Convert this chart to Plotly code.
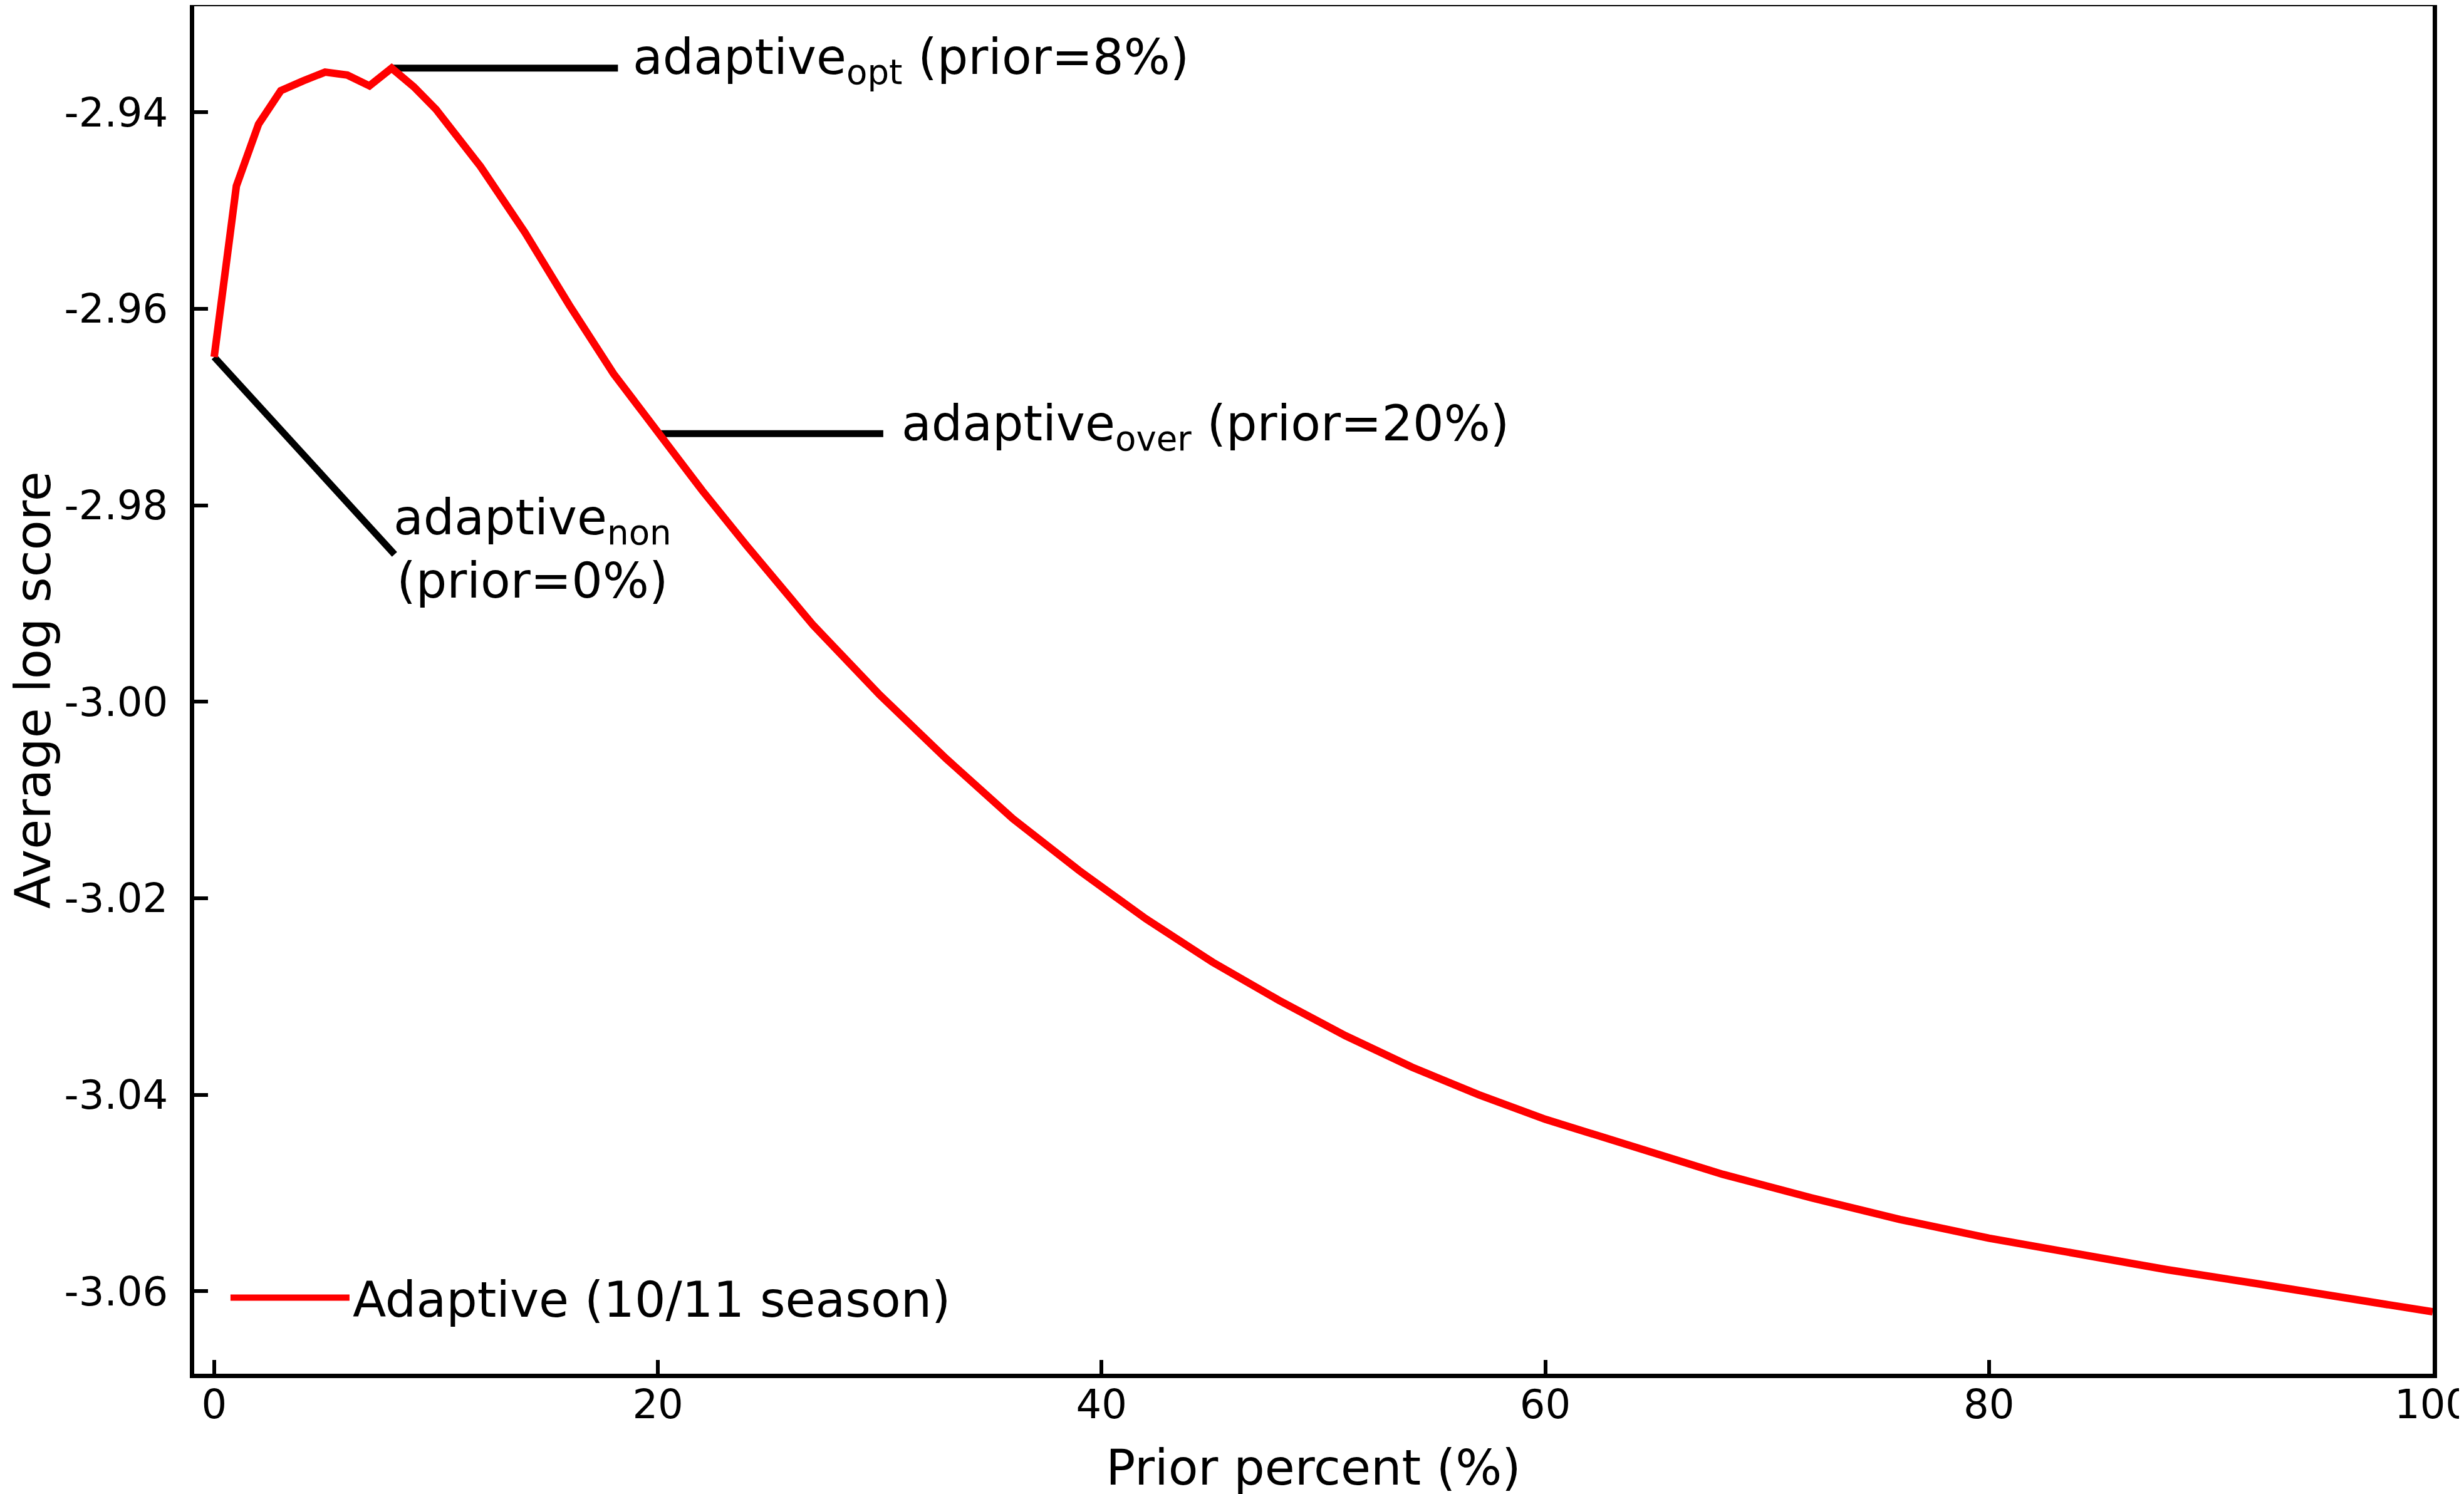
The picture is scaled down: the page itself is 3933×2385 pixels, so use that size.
import plotly.graph_objects as go

# Data
prior_percent = [0, 1, 2, 3, 4, 5, 6, 7, 8, 9, 10, 11, 12, 14, 16, 18, 20, 22, 24,
                 27, 30, 33, 36, 39, 42, 45, 48, 51, 54, 57, 60,
                 64, 68, 72, 76, 80, 84, 88, 92, 96, 100]
avg_log_score = [-2.9649, -2.9475, -2.9412, -2.9378, -2.9368, -2.9359, -2.9362, -2.9373,
                 -2.9355, -2.9374, -2.9397, -2.9425, -2.9455, -2.9522, -2.9596, -2.9666,
                 -2.9727, -2.9785, -2.9841,
                 -2.9922, -2.9993, -3.0058, -3.0119, -3.0172, -3.0221, -3.0265, -3.0304,
                 -3.0340, -3.0372, -3.0400, -3.0425,
                 -3.0454, -3.0481, -3.0505, -3.0527, -3.0546, -3.0562, -3.0578, -3.0592,
                 -3.0606, -3.0621]

series_name = "Adaptive (10/11 season)"
x_tick_vals = [0, 20, 40, 60, 80, 100]
x_tick_text = ["0", "20", "40", "60", "80", "100"]
y_tick_vals = [-3.06, -3.04, -3.02, -3.00, -2.98, -2.96, -2.94]
y_tick_text = ["-3.06", "-3.04", "-3.02", "-3.00", "-2.98", "-2.96", "-2.94"]

# annotated priors
opt_prior = 8
over_prior = 20
non_prior = 0

FONT = "DejaVu Sans"

fig = go.Figure()
fig.add_trace(go.Scatter(
    x=prior_percent, y=avg_log_score, mode="lines", name=series_name,
    line=dict(color="#ff0000", width=12),
))


def score_at(p):
    return avg_log_score[prior_percent.index(p)]


leader = dict(color="black", width=11)
# leader lines (annotation connectors)
fig.add_shape(type="line", xref="x", yref="y", x0=opt_prior, y0=score_at(opt_prior),
              x1=18.2, y1=score_at(opt_prior), line=leader, layer="below")
fig.add_shape(type="line", xref="x", yref="y", x0=over_prior, y0=score_at(over_prior),
              x1=30.16, y1=score_at(over_prior), line=leader, layer="below")
fig.add_shape(type="line", xref="x", yref="y", x0=non_prior, y0=score_at(non_prior),
              x1=8.13, y1=-2.985, line=leader, layer="below")

ann_font = dict(family=FONT, size=78, color="black")
fig.add_annotation(x=18.85, y=-2.93474, xref="x", yref="y",
                   text="adaptive<sub>opt</sub> (prior=8%)", showarrow=False,
                   xanchor="left", yanchor="middle", font=ann_font, borderpad=0)
fig.add_annotation(x=30.95, y=-2.97203, xref="x", yref="y",
                   text="adaptive<sub>over</sub> (prior=20%)", showarrow=False,
                   xanchor="left", yanchor="middle", font=ann_font, borderpad=0)
fig.add_annotation(x=8.05, y=-2.98447, xref="x", yref="y",
                   text="adaptive<sub>non</sub><br>(prior=0%)", showarrow=False,
                   align="center", xanchor="left", yanchor="middle", font=ann_font,
                   borderpad=0)

axis_common = dict(
    showline=True, linewidth=7, linecolor="black", mirror=True,
    ticks="inside", ticklen=22, tickwidth=6, tickcolor="black",
    showgrid=False, zeroline=False, automargin=False,
    tickfont=dict(family=FONT, size=64, color="black"),
    ticklabeloverflow="allow",
)

fig.update_xaxes(
    range=[-0.9, 100], tickmode="array", tickvals=x_tick_vals, ticktext=x_tick_text,
    title=dict(text="Prior percent (%)", font=dict(family=FONT, size=78, color="black"), standoff=40),
    ticklabelstandoff=-13,
    **axis_common,
)
fig.update_yaxes(
    range=[-3.0684, -2.9292], tickmode="array", tickvals=y_tick_vals, ticktext=y_tick_text,
    title=dict(text="Average log score", font=dict(family=FONT, size=78, color="black"), standoff=50),
    ticklabelstandoff=22,
    **axis_common,
)

fig.update_layout(
    width=3933, height=2385,
    margin=dict(l=302, r=58, t=2, b=200),
    plot_bgcolor="white", paper_bgcolor="white",
    font=dict(family=FONT, color="black"),
    showlegend=True,
    legend=dict(
        x=0.0148, y=0.0555, xanchor="left", yanchor="middle",
        bgcolor="rgba(0,0,0,0)", font=dict(family=FONT, size=78, color="black"),
        itemwidth=190,
    ),
)

fig.write_html("out.html")
